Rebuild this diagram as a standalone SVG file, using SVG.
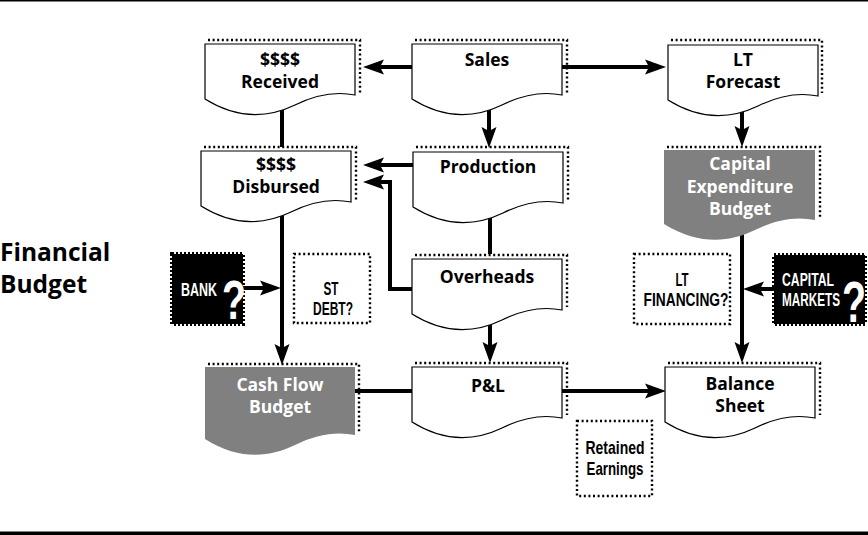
<svg xmlns="http://www.w3.org/2000/svg" width="868" height="535" viewBox="0 0 868 535">
<style>
.doc{fill:#fff;stroke:#000;stroke-width:1.2}
.gdoc{fill:#808080;stroke:none}
.dots{fill:none;stroke:#000;stroke-width:2.4;stroke-dasharray:2 2.6}
.t{font-family:"Open Sans","Liberation Sans",sans-serif;font-weight:700;font-size:17.5px;text-anchor:middle;fill:#000}
.tw{fill:#fff}
.c{font-family:"Liberation Sans",sans-serif;font-weight:700;font-size:19px;text-anchor:middle;fill:#000}
.cs{text-anchor:start}
.cw{fill:#fff}
.q{font-family:"Liberation Sans",sans-serif;font-weight:700;text-anchor:middle;fill:#fff}
.conn{fill:none;stroke:#000;stroke-width:4}
.arr{marker-end:url(#ah)}
.stamp{fill:#000}
.stampedge{fill:none;stroke:#000;stroke-width:4;stroke-dasharray:2 2}
.title{font-family:"Open Sans","Liberation Sans",sans-serif;font-weight:700;font-size:24.5px;fill:#000}
</style>
<defs>
<marker id="ah" markerUnits="userSpaceOnUse" markerWidth="22" markerHeight="16" viewBox="0 0 22 16" refX="10" refY="8" orient="auto">
<path d="M0,0.5 L21,8 L0,15.5 L4,8 Z" fill="#000"/>
</marker>
</defs>
<rect x="0" y="0" width="868" height="535" fill="#fff"/>
<line x1="0" y1="0.8" x2="868" y2="0.8" stroke="#000" stroke-width="1.6"/>
<line x1="0" y1="533.3" x2="868" y2="533.3" stroke="#000" stroke-width="3.4"/>

<g id="title">
<text class="title" x="0" y="261">Financial</text>
<text class="title" x="0" y="293">Budget</text>
</g>

<g id="connectors">
<path class="conn arr" d="M420,67 H374"/>
<path class="conn arr" d="M560,67 H655"/>
<path class="conn arr" d="M489,100 V137"/>
<path class="conn" d="M282,100 V147"/>
<path class="conn arr" d="M420,165 H374"/>
<path class="conn arr" d="M420,289 H390 V182 H374"/>
<path class="conn" d="M490,205 V254"/>
<path class="conn arr" d="M490,315 V352"/>
<path class="conn" d="M350,391 H420"/>
<path class="conn arr" d="M560,391 H655"/>
<path class="conn arr" d="M742,100 V136"/>
<path class="conn arr" d="M742,220 V352"/>
<path class="conn arr" d="M780,289 H754"/>
<path class="conn arr" d="M240,288 H270"/>
<path class="conn arr" d="M282,200 V354"/>
</g>

<g id="received">
<path class="dots" d="M208,40 H360 V93"/>
<path class="doc" d="M205,44 h150 v51 c-20,-4 -40,0 -60,10 c-25,12 -55,16 -90,-6 z"/>
<text class="t" x="280" y="66">$$$$</text>
<text class="t" x="280" y="88">Received</text>
</g>

<g id="sales">
<path class="dots" d="M415,40 H567 V93"/>
<path class="doc" d="M412,44 h150 v51 c-20,-4 -40,0 -60,10 c-25,12 -55,16 -90,-6 z"/>
<text class="t" x="487" y="66">Sales</text>
</g>

<g id="lt-forecast">
<path class="dots" d="M671,40 H822 V93"/>
<path class="doc" d="M668,45 h150 v51 c-20,-4 -40,0 -60,10 c-25,12 -55,16 -90,-6 z"/>
<text class="t" x="743" y="66">LT</text>
<text class="t" x="743" y="88">Forecast</text>
</g>

<g id="disbursed">
<path class="dots" d="M204,147 H356 V200"/>
<path class="doc" d="M201,151 h150 v51 c-20,-4 -40,0 -60,10 c-25,12 -55,16 -90,-6 z"/>
<text class="t" x="276" y="171">$$$$</text>
<text class="t" x="276" y="193">Disbursed</text>
</g>

<g id="production">
<path class="dots" d="M416,147 H568 V200"/>
<path class="doc" d="M413,152 h150 v51 c-20,-4 -40,0 -60,10 c-25,12 -55,16 -90,-6 z"/>
<text class="t" x="488" y="173">Production</text>
</g>

<g id="capex">
<path class="dots" d="M667,147 H820 V218"/>
<path class="gdoc" d="M664,150 h151 v70 c-20,-4 -40,0 -60,10 c-25,12 -55,16 -91,-6 z"/>
<text class="t tw" x="740" y="170">Capital</text>
<text class="t tw" x="740" y="193">Expenditure</text>
<text class="t tw" x="740" y="215">Budget</text>
</g>

<g id="overheads">
<path class="dots" d="M415,255 H567 V307"/>
<path class="doc" d="M412,259 h150 v51 c-20,-4 -40,0 -60,10 c-25,12 -55,16 -90,-6 z"/>
<text class="t" x="487" y="283">Overheads</text>
</g>

<g id="cash-flow">
<path class="dots" d="M208,364 H359 V433"/>
<path class="gdoc" d="M205,367 h150 v68 c-20,-4 -40,0 -60,10 c-25,12 -55,16 -90,-6 z"/>
<text class="t tw" x="280" y="391">Cash Flow</text>
<text class="t tw" x="280" y="413">Budget</text>
</g>

<g id="pl">
<path class="dots" d="M415,363 H567 V415"/>
<path class="doc" d="M412,367 h150 v51 c-20,-4 -40,0 -60,10 c-25,12 -55,16 -90,-6 z"/>
<text class="t" x="488" y="392">P&amp;L</text>
</g>

<g id="balance-sheet">
<path class="dots" d="M668,363 H820 V415"/>
<path class="doc" d="M665,367 h150 v51 c-20,-4 -40,0 -60,10 c-25,12 -55,16 -90,-6 z"/>
<text class="t" x="740" y="390">Balance</text>
<text class="t" x="740" y="412">Sheet</text>
</g>

<g id="bank">
<rect class="stamp" x="172" y="254" width="71" height="70"/>
<rect class="stampedge" x="172" y="254" width="71" height="70"/>
<text class="c cw" transform="translate(199,296) scale(0.713,1)" style="font-size:17.5px">BANK</text>
<text class="q" transform="translate(234,319) scale(0.7,1)" font-size="56">?</text>
</g>

<g id="st-debt">
<rect class="dots" x="294" y="254" width="76" height="69"/>
<text class="c" transform="translate(331,295) scale(0.617,1)">ST</text>
<text class="c" transform="translate(333,315) scale(0.632,1)">DEBT?</text>
</g>

<g id="lt-financing">
<rect class="dots" x="634" y="254" width="96" height="70"/>
<text class="c" transform="translate(682,286) scale(0.603,1)">LT</text>
<text class="c" transform="translate(686,306) scale(0.725,1)">FINANCING?</text>
</g>

<g id="capital-markets">
<rect class="stamp" x="774" y="255" width="91" height="69"/>
<rect class="stampedge" x="774" y="255" width="91" height="69"/>
<text class="c cw cs" transform="translate(782,286) scale(0.679,1)" style="font-size:18px">CAPITAL</text>
<text class="c cw cs" transform="translate(782,306) scale(0.652,1)" style="font-size:18px">MARKETS</text>
<text class="q" transform="translate(854,322) scale(0.68,1)" font-size="58">?</text>
</g>

<g id="retained-earnings">
<rect class="dots" x="577" y="421" width="75" height="75"/>
<text class="c" transform="translate(615,454) scale(0.776,1)" style="font-size:18px">Retained</text>
<text class="c" transform="translate(615,475) scale(0.74,1)" style="font-size:18px">Earnings</text>
</g>
</svg>
